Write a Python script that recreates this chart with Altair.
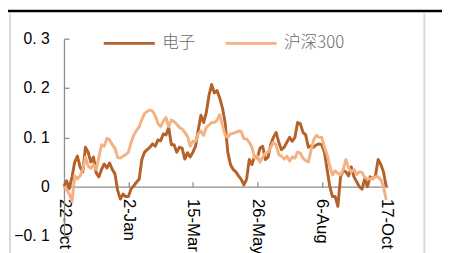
import altair as alt
import pandas as pd

# sampled every 3 calendar days from 22-Oct-2022 to 17-Oct-2023
start_date = "2022-10-22"
n_points = 121
dianzi = [0.0, 0.012, -0.004, 0.02, 0.05, 0.062, 0.04, 0.03, 0.08, 0.07,
          0.05, 0.06, 0.028, 0.02, 0.035, 0.046, 0.038, 0.048, 0.035, 0.026,
          -0.008, -0.025, -0.015, -0.02, -0.02, -0.004, 0.002, 0.009, 0.015, 0.055,
          0.07, 0.075, 0.08, 0.087, 0.082, 0.095, 0.093, 0.107, 0.105, 0.12,
          0.085, 0.085, 0.07, 0.08, 0.078, 0.056, 0.069, 0.06, 0.07, 0.082,
          0.115, 0.145, 0.13, 0.15, 0.185, 0.207, 0.19, 0.195, 0.18, 0.16,
          0.13, 0.07, 0.045, 0.035, 0.03, 0.022, 0.015, 0.004, 0.015, 0.055,
          0.045, 0.062, 0.058, 0.078, 0.082, 0.055, 0.06, 0.085, 0.1, 0.11,
          0.09, 0.075, 0.08, 0.09, 0.1, 0.092, 0.1, 0.13, 0.128, 0.11,
          0.105, 0.08, 0.083, 0.08, 0.085, 0.087, 0.085, 0.07, 0.035, 0.0,
          -0.02, -0.02, -0.04, 0.02, 0.033, 0.03, 0.022, 0.04, 0.02, 0.01,
          0.0, -0.005, 0.016, 0.0, 0.02, 0.016, 0.022, 0.055, 0.045, 0.03,
          0.0]
hs300 = [0.0, -0.006, -0.015, -0.03, 0.022, 0.016, 0.022, 0.035, 0.06, 0.042,
         0.037, 0.045, 0.035, 0.06, 0.085, 0.082, 0.098, 0.095, 0.085, 0.078,
         0.059, 0.058, 0.062, 0.065, 0.07, 0.09, 0.105, 0.114, 0.121, 0.136,
         0.148, 0.153, 0.155, 0.153, 0.144, 0.128, 0.122, 0.133, 0.14, 0.122,
         0.135, 0.132, 0.127, 0.12, 0.117, 0.11, 0.102, 0.082, 0.092, 0.092,
         0.107, 0.113, 0.104, 0.12, 0.125, 0.13, 0.13, 0.135, 0.146, 0.125,
         0.105, 0.1, 0.107, 0.108, 0.11, 0.113, 0.112, 0.097, 0.097, 0.09,
         0.08, 0.058, 0.062, 0.05, 0.06, 0.068, 0.07, 0.08, 0.09, 0.085,
         0.065, 0.062, 0.056, 0.062, 0.052, 0.06, 0.058, 0.07, 0.068, 0.058,
         0.053, 0.05, 0.074, 0.095, 0.104, 0.1, 0.1, 0.08, 0.065, 0.042,
         0.024, 0.032, 0.027, 0.024, 0.035, 0.055, 0.038, 0.03, 0.035, 0.025,
         0.03, 0.029, 0.019, 0.016, 0.016, 0.017, 0.02, 0.02, 0.014, 0.0,
         -0.027]
series_names = ["电子", "沪深300"]
series_colors = ["#B5622A", "#F4B183"]
tick_dates = ["2022-10-22", "2023-01-02", "2023-03-15", "2023-05-26", "2023-08-06", "2023-10-17"]
y_ticks = [-0.1, 0, 0.1, 0.2, 0.3]
x_domain = ["2022-10-22", "2023-10-19"]
y_domain = [-0.1, 0.3]

dates = pd.date_range(start_date, periods=n_points, freq="3D").strftime("%Y-%m-%d")
df = pd.concat([
    pd.DataFrame({"date": dates, "value": dianzi, "series": series_names[0]}),
    pd.DataFrame({"date": dates, "value": hs300, "series": series_names[1]}),
])

W, H = 330, 201
zero_off = H * (y_domain[1] - 0) / (y_domain[1] - y_domain[0])  # px from top to zero

def dt(s):
    y, m, d = map(int, s.split("-"))
    return alt.DateTime(year=y, month=m, date=d, utc=True)

tick_vals = [dt(s) for s in tick_dates]
xscale = alt.Scale(type="utc", domain=[dt(s) for s in x_domain])
yscale = alt.Scale(domain=y_domain, nice=False, zero=False)

color = alt.Color("series:N", scale=alt.Scale(domain=series_names, range=series_colors),
                  sort=series_names,
                  legend=alt.Legend(title=None, orient="none", legendX=39, legendY=-23,
                                    direction="horizontal", symbolType="stroke",
                                    symbolSize=2704, symbolStrokeWidth=3,
                                    labelFont="Noto Sans CJK SC", labelFontSize=17,
                                    labelFontWeight=300,
                                    labelColor="#6b6b6b", columnPadding=24, labelOffset=6,
                                    padding=0))

axis_gray = "#8c8c8c"

brown = alt.Chart(df).transform_filter(alt.datum.series == series_names[0]).mark_line(
    strokeWidth=3, strokeJoin="round").encode(
    x=alt.X("date:T", scale=xscale,
            axis=alt.Axis(title=None, orient="bottom", offset=-(H - zero_off), values=tick_vals,
                          labelExpr="utcFormat(datum.value, '%-d-%b')", labelAngle=90,
                          labelAlign="left", labelBaseline="middle", labelPadding=12,
                          labelFont="Liberation Sans", labelFontSize=17, labelColor="#000000",
                          ticks=False, grid=False, domainColor=axis_gray, domainWidth=1.3,
                          labelOverlap=False, labelBound=False, labelFlush=False)),
    y=alt.Y("value:Q", scale=yscale,
            axis=alt.Axis(title=None, orient="left", values=y_ticks,
                          labelExpr="datum.value == 0 ? '0' : replace(format(datum.value, '.1f'), '.', '. ')",
                          labelFont="Liberation Sans", labelFontSize=16, labelColor="#000000",
                          labelPadding=15, ticks=False, grid=False, domainColor=axis_gray,
                          domainWidth=1.3, labelOverlap=False, labelFlush=False)),
    color=color,
)

orange = alt.Chart(df).transform_filter(alt.datum.series == series_names[1]).mark_line(
    strokeWidth=3, strokeJoin="round").encode(
    x=alt.X("date:T", scale=xscale,
            axis=alt.Axis(title=None, orient="top", offset=-zero_off, values=tick_vals,
                          labels=False, domain=False, grid=False, ticks=True, tickSize=5,
                          tickColor=axis_gray, tickWidth=1.3)),
    y=alt.Y("value:Q", scale=yscale,
            axis=alt.Axis(title=None, orient="right", offset=-W, values=y_ticks,
                          labels=False, domain=False, grid=False, ticks=True, tickSize=5,
                          tickColor=axis_gray, tickWidth=1.3)),
    color=color,
)

frame_data = pd.DataFrame({"k": [0]})
top_line = alt.Chart(frame_data).mark_rule(color="#000000", strokeWidth=2.5).encode(
    x=alt.value(-60), x2=alt.value(W + 60), y=alt.value(-28.3))
left_line = alt.Chart(frame_data).mark_rule(color="#d9d9d9", strokeWidth=2).encode(
    x=alt.value(-55), y=alt.value(-26), y2=alt.value(H + 30))
right_line = alt.Chart(frame_data).mark_rule(color="#d9d9d9", strokeWidth=2).encode(
    x=alt.value(367), y=alt.value(-26), y2=alt.value(H + 30))

chart = alt.layer(brown, orange, top_line, left_line, right_line).resolve_axis(
    x="independent", y="independent").properties(
    width=W, height=H, autosize=alt.AutoSizeParams(type="none"),
    padding={"left": 57, "top": 29, "right": 55, "bottom": 15},
    background="#ffffff",
).configure_view(strokeWidth=0)

chart.save("out.html", embed_options={"renderer": "svg", "actions": False})
